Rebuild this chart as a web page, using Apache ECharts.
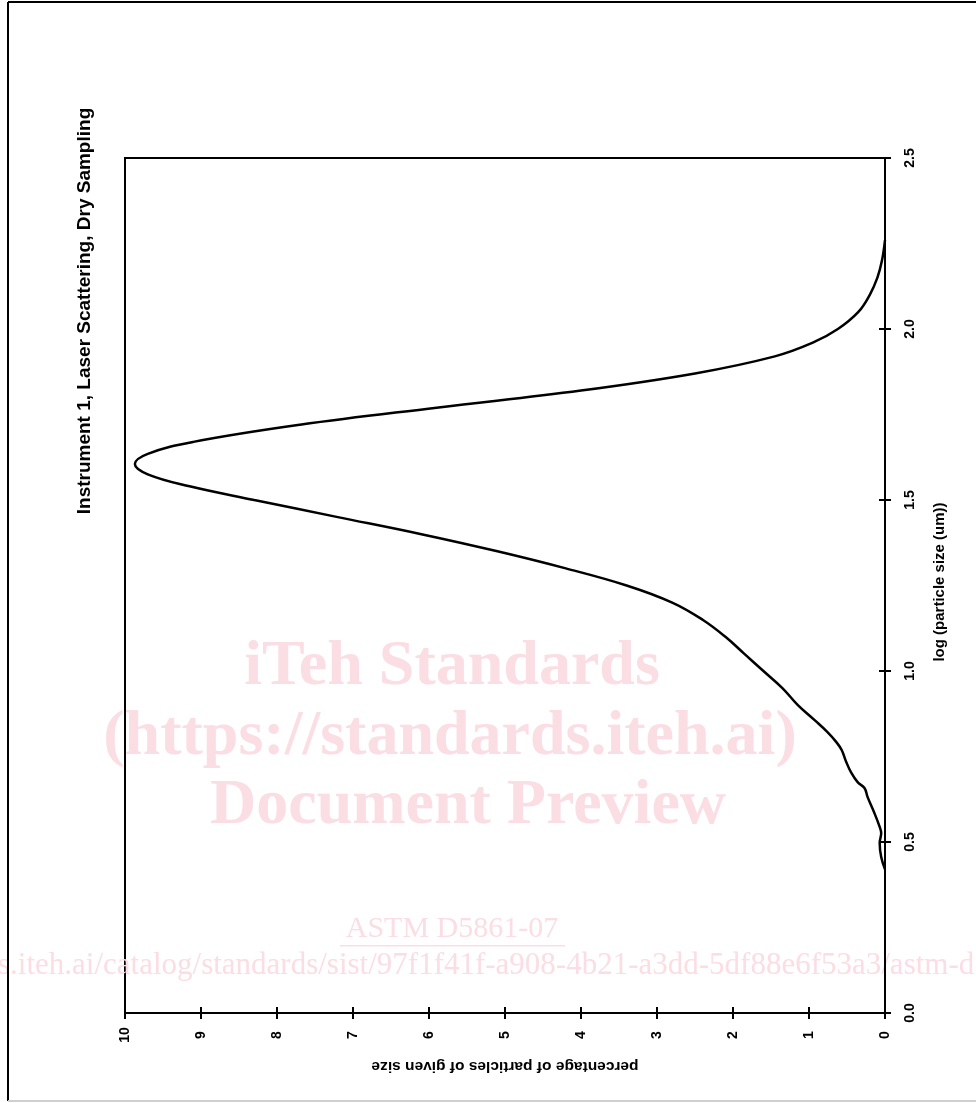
<!DOCTYPE html>
<html>
<head>
<meta charset="utf-8">
<script src="https://cdn.jsdelivr.net/npm/echarts@6/dist/echarts.min.js"></script>
<style>
html,body{margin:0;padding:0;background:#fff;}
#chart{width:976px;height:1103px;}
</style>
</head>
<body>
<div id="chart"></div>
<script>
// log (particle size (um)) values
var logSize = [0.42,0.456,0.497,0.526,0.544,0.585,0.632,0.658,0.675,0.705,0.734,0.769,0.792,0.822,0.857,0.901,0.95,1.0,1.05,1.1,1.15,1.2,1.25,1.3,1.35,1.4,1.45,1.5,1.54,1.575,1.605,1.635,1.67,1.72,1.77,1.82,1.87,1.92,1.96,2.0,2.05,2.1,2.15,2.2,2.26];
// percentage of particles of given size
var percent = [0,0.05,0.07,0.05,0.07,0.14,0.23,0.27,0.36,0.45,0.51,0.57,0.64,0.76,0.93,1.15,1.35,1.6,1.85,2.1,2.4,2.8,3.4,4.2,5.1,6.1,7.2,8.3,9.15,9.7,9.87,9.7,9.1,7.7,5.9,4.0,2.5,1.45,0.95,0.62,0.35,0.2,0.1,0.04,0];
var titleText = 'Instrument 1, Laser Scattering, Dry Sampling';
var xName = 'log (particle size (um))';
var yName = 'percentage of particles of given size';

var seriesData = [];
for (var i = 0; i < logSize.length; i++) seriesData.push([percent[i], logSize[i]]);

var F = '"Liberation Sans", Arial, sans-serif';
var WM = '#fbdde4';
var chart = echarts.init(document.getElementById('chart'), null, {renderer:'canvas'});
var tickCommon = {show:true, length:6, lineStyle:{color:'#000', width:2}};
chart.setOption({
  animation:false,
  backgroundColor:'#fff',
  grid:{left:125,right:91,top:158,bottom:90,show:true,borderColor:'#000',borderWidth:2},
  xAxis:[{
    type:'value', min:0, max:10, interval:1, inverse:true, position:'bottom',
    axisLine:{show:true,lineStyle:{color:'#000',width:2}},
    axisTick:Object.assign({inside:false},tickCommon),
    splitLine:{show:false},
    axisLabel:{rotate:90, margin:22, align:'center', verticalAlign:'middle', color:'#000', fontFamily:F, fontWeight:'bold', fontSize:14,
      formatter:function(v){return String(v);}}
  },{
    type:'value', min:0, max:10, interval:1, inverse:true, position:'bottom',
    axisLine:{show:false}, axisTick:Object.assign({inside:true},tickCommon),
    splitLine:{show:false}, axisLabel:{show:false}
  }],
  yAxis:[{
    type:'value', min:0, max:2.5, interval:0.5, position:'right',
    axisLine:{show:true,lineStyle:{color:'#000',width:2}},
    axisTick:Object.assign({inside:false},tickCommon),
    splitLine:{show:false},
    axisLabel:{rotate:90, margin:25, align:'center', verticalAlign:'middle', color:'#000', fontFamily:F, fontWeight:'bold', fontSize:14,
      formatter:function(v){return v.toFixed(1);}}
  },{
    type:'value', min:0, max:2.5, interval:0.5, position:'right',
    axisLine:{show:false}, axisTick:Object.assign({inside:true},tickCommon),
    splitLine:{show:false}, axisLabel:{show:false}
  }],
  graphic:[
    {type:'text', x:452, y:667, z:0, style:{text:'iTeh Standards', fill:WM, font:'bold 64px "Liberation Serif", serif', align:'center', verticalAlign:'middle'}},
    {type:'text', x:450, y:737, z:0, style:{text:'(https://standards.iteh.ai)', fill:WM, font:'bold 64px "Liberation Serif", serif', align:'center', verticalAlign:'middle'}},
    {type:'text', x:468, y:806, z:0, style:{text:'Document Preview', fill:WM, font:'bold 64px "Liberation Serif", serif', align:'center', verticalAlign:'middle'}},
    {type:'text', x:452, y:929, z:0, style:{text:'ASTM D5861-07', fill:WM, font:'30px "Liberation Serif", serif', align:'center', verticalAlign:'middle'}},
    {type:'rect', shape:{x:340,y:945,width:225,height:1.5}, style:{fill:WM}, z:0},
    {type:'text', x:-2, y:966, z:0, style:{text:'s.iteh.ai/catalog/standards/sist/97f1f41f-a908-4b21-a3dd-5df88e6f53a3/astm-d5861-07', fill:WM, font:'31px "Liberation Serif", serif', align:'left', verticalAlign:'middle'}},
    {type:'text', x:85, y:311, rotation:Math.PI/2, z:10, style:{text:titleText, fill:'#000', font:'bold 19px '+F, align:'center', verticalAlign:'middle'}},
    {type:'text', x:940, y:582, rotation:Math.PI/2, z:10, style:{text:xName, fill:'#000', font:'bold 15px '+F, align:'center', verticalAlign:'middle'}},
    {type:'text', x:505, y:1066, rotation:Math.PI, z:10, style:{text:yName, fill:'#000', font:'bold 15.5px '+F, align:'center', verticalAlign:'middle'}},
    {type:'line', shape:{x1:8,y1:2,x2:976,y2:2}, style:{stroke:'#000',lineWidth:2}, z:10},
    {type:'line', shape:{x1:8,y1:2,x2:8,y2:1101}, style:{stroke:'#000',lineWidth:2}, z:10},
    {type:'line', shape:{x1:8,y1:1101,x2:976,y2:1101}, style:{stroke:'#cfcfcf',lineWidth:2}, z:10}
  ],
  series:[{
    type:'line', xAxisIndex:0, yAxisIndex:0, data:seriesData, smooth:0.4, showSymbol:false,
    lineStyle:{color:'#000', width:2.5}, z:5
  }]
});
</script>
</body>
</html>
